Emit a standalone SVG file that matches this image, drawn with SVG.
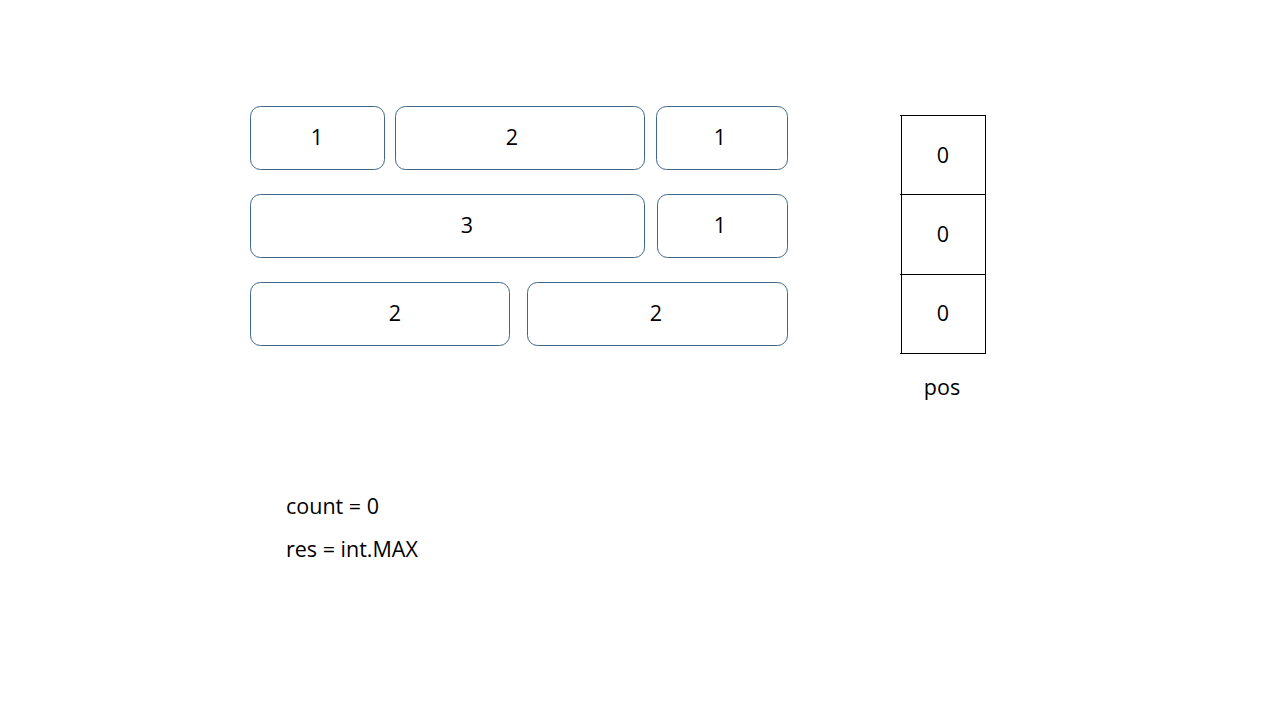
<svg xmlns="http://www.w3.org/2000/svg" width="1280" height="720" viewBox="0 0 1280 720">
<style>
.b{fill:#fff;stroke:#41668c;stroke-width:1}
.t{font-family:"Open Sans","Liberation Sans",Arial,sans-serif;font-size:21.5px;fill:#000;text-anchor:middle}
.l{font-family:"Open Sans","Liberation Sans",Arial,sans-serif;font-size:21.5px;fill:#000}
.g{stroke:#000;stroke-width:1;fill:none}
</style>
<rect width="1280" height="720" fill="#fff"/>
<g id="r1a"><rect class="b" x="250.5" y="106.5" width="134" height="63" rx="10"/><text class="t" x="317" y="145">1</text></g>
<g id="r1b"><rect class="b" x="395.5" y="106.5" width="249" height="63" rx="10"/><text class="t" x="512" y="145">2</text></g>
<g id="r1c"><rect class="b" x="656.5" y="106.5" width="131" height="63" rx="10"/><text class="t" x="720" y="145">1</text></g>
<g id="r2a"><rect class="b" x="250.5" y="194.5" width="394" height="63" rx="10"/><text class="t" x="467" y="233">3</text></g>
<g id="r2b"><rect class="b" x="657.5" y="194.5" width="130" height="63" rx="10"/><text class="t" x="720" y="233">1</text></g>
<g id="r3a"><rect class="b" x="250.5" y="282.5" width="259" height="63" rx="10"/><text class="t" x="395" y="321">2</text></g>
<g id="r3b"><rect class="b" x="527.5" y="282.5" width="260" height="63" rx="10"/><text class="t" x="656" y="321">2</text></g>
<g id="pos">
<path class="g" d="M901.5 115.5V353.5M985.5 115.5V353.5M900 115.5H986M900 194.5H986M900 274.5H986M900 353.5H986"/>
<text class="t" x="943" y="163">0</text>
<text class="t" x="943" y="242">0</text>
<text class="t" x="943" y="321">0</text>
<text class="t" x="942" y="395">pos</text>
</g>
<g id="vars">
<text class="l" x="286" y="514">count = 0</text>
<text class="l" x="286" y="557">res = int.MAX</text>
</g>
</svg>
